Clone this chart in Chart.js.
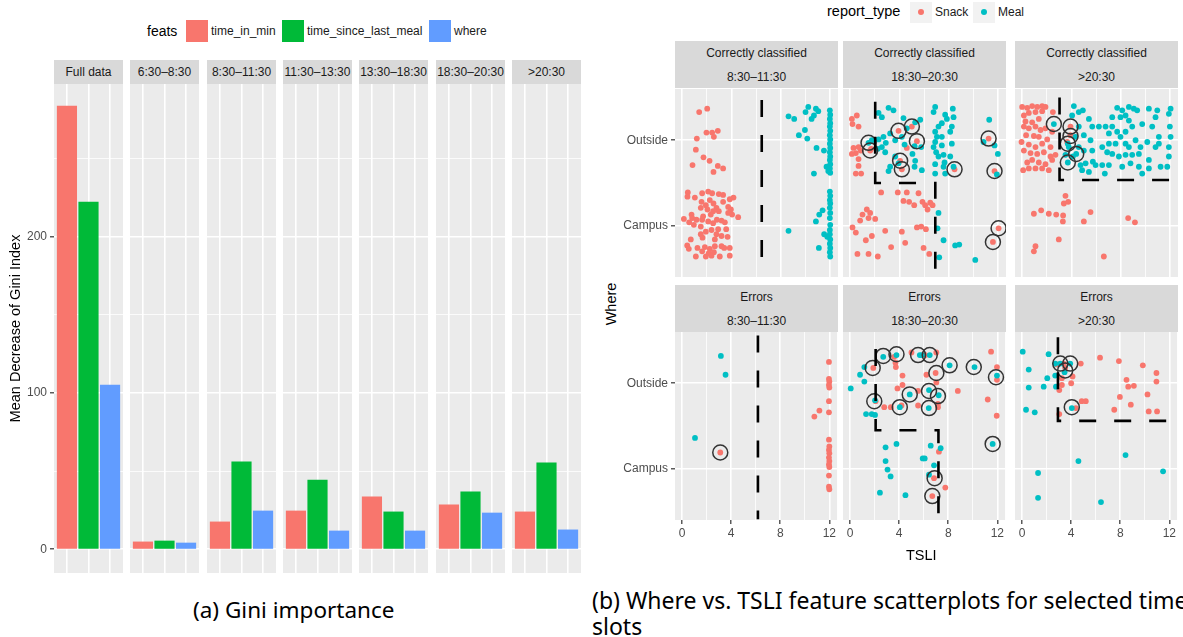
<!DOCTYPE html>
<html>
<head>
<meta charset="utf-8">
<script src="https://cdn.jsdelivr.net/npm/chart.js@4.4.1/dist/chart.umd.min.js"></script>
<style>
body { margin:0; width:1183px; height:637px; position:relative; overflow:hidden; background:#fff; font-family:"Liberation Sans", Arial, sans-serif; }
canvas { position:absolute; }
.strip { position:absolute; background:#D9D9D9; color:#1A1A1A; font-size:12px; text-align:center; }
.lab { position:absolute; white-space:nowrap; }
.cap { position:absolute; white-space:nowrap; font-family:"Noto Sans", sans-serif; font-size:22.5px; line-height:30px; color:#000; }
</style>
</head>
<body>
<div id="root"></div>
<script>
// ---- (a) Gini importance ----
const slots = ['Full data', '6:30–8:30', '8:30–11:30', '11:30–13:30', '13:30–18:30', '18:30–20:30', '>20:30'];
const feats = ['time_in_min', 'time_since_last_meal', 'where'];
const timeInMin = [283.6, 4.7, 17.5, 24.5, 33.5, 28.4, 23.9];
const timeSinceLastMeal = [222.2, 5.3, 55.9, 44.3, 23.9, 36.7, 55.3];
const whereGini = [105.1, 4.0, 24.5, 11.7, 11.7, 23.2, 12.4];
const giniTicks = [0, 100, 200];
const featColors = ['#F8766D', '#00BA38', '#619CFF'];

// ---- (b) Where vs TSLI (Where: Campus = 1, Outside = 2, jittered) ----
const reportTypes = ['Snack', 'Meal'];
const whereLevels = ['Campus', 'Outside'];
const tsliTicks = [0, 4, 8, 12];
const typeColors = ['#F8766D', '#00BFC4'];
const topRowTitle = 'Correctly classified';
const bottomRowTitle = 'Errors';
const scatterSlots = ['8:30–11:30', '18:30–20:30', '>20:30'];

const c1Snack = [[1.38,2.33],[2.03,2.37],[1.19,2.02],[1.97,2.09],[2.43,2.09],[2.57,2.04],[2.89,2.11],[1.11,1.89],[1.73,1.80],[2.22,1.76],[0.84,1.71],[2.54,1.63],[2.89,1.70],[3.32,1.67],
  [0.46,1.39],[1.03,1.33],[1.62,1.38],[2.11,1.40],[2.43,1.38],[2.97,1.37],[3.32,1.36],[4.16,1.33],[3.86,1.31],
  [0.43,1.34],[1.57,1.28],[2.24,1.30],[1.92,1.24],[2.54,1.26],[3.32,1.28],[3.73,1.22],[2.78,1.21],[1.51,1.21],
  [2.05,1.19],[2.51,1.17],[2.97,1.17],[3.95,1.19],[3.73,1.15],[4.54,1.10],[0.76,1.13],[1.70,1.11],[2.32,1.13],[4.05,1.13],
  [0.14,1.08],[0.81,1.09],[0.57,1.04],[1.16,1.07],[1.62,1.07],[2.11,1.05],[2.51,1.03],[2.81,1.07],[3.19,1.06],[3.46,1.04],[1.51,0.99],[0.95,1.01],
  [2.38,0.95],[2.92,0.96],[3.57,0.96],[1.92,0.93],[1.51,0.90],[0.70,0.84],[2.78,0.90],[3.19,0.88],[3.68,0.87],[1.65,0.86],[2.65,0.84],
  [0.41,0.77],[0.54,0.73],[1.24,0.74],[1.84,0.75],[2.24,0.73],[2.65,0.76],[3.19,0.76],[3.86,0.74],[1.62,0.70],[2.16,0.68],[2.57,0.69],[3.05,0.64],[3.86,0.65],[1.11,0.64],[1.92,0.64],[2.38,0.65],[3.41,0.74]];
const c1Meal = [[8.62,2.28],[9.08,2.25],[10.0,2.33],[10.22,2.39],[10.49,2.25],[10.68,2.29],[10.84,2.37],[11.03,2.34],[9.95,2.12],[9.46,2.06],[10.14,2.02],[10.89,1.91],[11.49,1.88],[10.68,1.61],[11.70,1.69],[11.84,1.64],
  [11.97,2.35],[12.0,2.30],[11.97,2.25],[12.0,2.20],[11.97,2.16],[12.0,2.11],[11.97,2.06],[12.0,2.01],[11.97,1.96],[12.0,1.91],[11.97,1.86],[12.0,1.81],[11.97,1.77],[12.0,1.72],[11.97,1.67],[12.0,1.62],
  [11.97,1.40],[12.0,1.35],[11.97,1.30],[12.0,1.26],[11.97,1.21],[12.0,1.15],[11.97,1.09],[12.0,1.01],[11.97,0.95],[12.0,0.84],[11.97,0.79],[12.0,0.74],[11.97,0.69],[12.0,0.64],[11.97,0.90],
  [8.62,0.94],[10.84,1.05],[11.11,1.13],[11.38,1.18],[11.08,0.74],[11.51,0.90],[11.76,0.87]];
const c1Circled = [];
const c1Split = [[6.45,2.47],[6.45,0.43]];

const c2Snack = [[0.14,2.25],[0.54,2.29],[0.19,2.19],[0.68,2.16],[0.27,1.91],[0.68,1.92],[0.46,1.85],[0.14,1.84],[0.86,1.88],[0.68,1.78],[0.68,1.70],[0.46,1.61],[0.89,1.61],[1.70,1.90],
  [3.92,2.11],[5.0,2.16],[5.41,1.99],[4.05,1.76],[4.19,1.66],[8.46,1.66],[11.22,2.02],[11.70,1.64],[1.62,1.88],[4.59,1.91],
  [2.51,1.39],[3.86,1.39],[4.59,1.39],[5.54,1.38],[4.32,1.29],[4.78,1.28],[5.19,1.24],[5.86,1.28],[6.08,1.24],[6.49,1.27],[6.68,1.24],[6.27,1.19],
  [1.35,1.19],[1.62,1.15],[1.0,1.13],[1.49,1.09],[2.03,1.08],[0.81,1.06],[0.19,0.98],[0.46,0.92],[1.76,0.88],[1.27,0.83],[2.84,0.94],[4.19,0.93],
  [5.41,0.98],[5.76,0.99],[6.14,0.96],[4.46,0.80],[3.32,0.75],[5.95,0.74],[0.59,0.67],[1.49,0.67],[2.24,0.64],[6.41,0.67],[12.03,0.97],[11.57,0.81]];
const c2Meal = [[3.11,2.38],[3.51,2.35],[2.30,2.32],[2.57,2.27],[4.32,2.26],[5.68,2.24],[6.89,2.39],[6.76,2.33],[7.70,2.30],[8.32,2.37],[7.84,2.25],[8.38,2.27],
  [7.43,2.20],[7.16,2.16],[8.24,2.16],[6.89,2.10],[7.03,2.04],[7.43,2.04],[8.11,2.10],[6.89,1.98],[6.76,1.92],[7.43,1.94],[8.24,1.96],[6.97,1.86],
  [7.16,1.81],[7.57,1.83],[5.27,2.21],[4.59,2.14],[3.24,2.08],[2.70,2.04],[2.89,1.97],[2.57,1.92],[2.30,2.01],[3.65,2.00],[4.19,2.04],[4.41,1.95],
  [5.22,1.93],[5.76,1.92],[5.05,1.84],[2.84,1.86],[3.65,1.81],[3.92,1.73],[5.27,1.76],[3.24,1.69],[3.11,1.64],[5.22,1.69],[5.81,1.65],[6.89,1.72],
  [7.57,1.69],[8.11,1.81],[7.65,1.74],[6.89,1.61],[7.70,1.61],[11.27,2.24],[10.81,1.98],[11.70,1.94],[11.97,1.84],[11.89,1.60],[8.38,1.69],[2.24,1.90],
  [1.76,2.00],[1.49,1.97],
  [7.16,1.15],[7.08,0.97],[7.57,0.83],[8.51,0.77],[8.84,0.78],[7.22,0.63],[10.14,0.60]];
const c2Circled = [[1.49,1.97],[1.62,1.88],[3.92,2.11],[5.0,2.16],[5.41,1.99],[4.05,1.76],[4.19,1.66],[8.46,1.66],[11.22,2.02],[11.70,1.64],[12.03,0.97],[11.57,0.81]];
const c2Split = [[2.03,2.45],[2.03,1.50],[6.90,1.50],[6.90,0.49]];

const c3Snack = [[0,2.39],[0.41,2.38],[0.81,2.40],[1.22,2.39],[1.62,2.40],[1.89,2.39],[0.14,2.29],[0.54,2.32],[1.08,2.33],[1.62,2.34],[2.49,2.33],
  [0.27,2.22],[0.81,2.21],[1.35,2.25],[0.14,2.16],[0.54,2.14],[1.08,2.16],[1.49,2.12],[1.89,2.14],[2.43,2.10],[0.32,2.06],[0.95,2.05],[1.35,2.04],
  [2.03,2.01],[-0.05,1.98],[0.54,1.95],[1.08,1.92],[1.62,1.96],[2.30,1.92],[0.14,1.88],[0.68,1.85],[1.22,1.84],[1.76,1.86],[2.30,1.81],[0.81,1.77],
  [1.35,1.74],[1.89,1.72],[2.43,1.77],[2.70,1.83],[0.08,1.65],[0.54,1.67],[1.08,1.67],[1.62,1.67],[2.16,1.65],[0.41,1.74],
  [3.92,2.16],[3.92,2.06],[3.65,1.98],
  [3.51,1.35],[3.38,1.26],[3.73,1.28],[0.95,1.14],[1.54,1.18],[2.16,1.14],[2.76,1.13],[3.32,1.12],[3.30,1.05],[5.54,1.16],[5.0,1.05],[8.59,1.09],
  [9.14,1.04],[2.97,0.84],[1.08,0.76],[0.95,0.70],[6.62,0.64]];
const c3Meal = [[2.57,2.19],[3.70,1.74],[4.38,1.84],[3.70,1.96],
  [4.19,2.40],[4.59,2.33],[4.05,2.29],[4.92,2.35],[5.41,2.25],[5.68,2.16],[4.59,2.16],[5.0,2.06],[4.32,2.04],[5.54,2.00],[3.78,1.92],[4.59,1.92],
  [5.0,1.88],[5.68,1.88],[3.51,1.83],[4.11,1.81],[4.73,1.71],[5.14,1.73],[5.73,1.75],[6.49,1.71],[5.41,1.63],[4.86,1.65],[6.70,1.61],[6.49,1.92],
  [7.03,1.96],[6.76,2.16],[7.30,2.27],[7.70,2.38],[8.11,2.35],[8.65,2.39],[9.05,2.37],[8.38,2.29],[7.97,2.27],[8.65,2.23],[9.32,2.35],[10.27,2.37],
  [10.95,2.35],[10.81,2.27],[10.54,2.16],[9.73,2.19],[8.92,2.16],[8.38,2.10],[7.97,2.04],[7.70,2.10],[7.30,2.16],[7.03,2.08],[7.57,1.96],[8.38,1.96],
  [8.65,1.92],[9.19,2.00],[9.59,1.92],[10.14,1.98],[9.46,1.84],[8.92,1.83],[8.38,1.83],[7.84,1.81],[7.30,1.84],[7.03,1.71],[8.11,1.69],[8.78,1.73],
  [9.46,1.69],[9.73,1.61],[10.27,1.67],[11.22,1.69],[11.76,1.69],[11.89,1.81],[11.89,1.92],[12.03,2.04],[11.97,2.16],[11.89,2.31],[12.03,2.37],
  [11.08,2.04],[10.81,1.92],[10.27,1.77],[11.08,1.96],[6.22,2.16],[6.89,1.86],[5.95,1.71]];
const c3Circled = [[2.57,2.19],[3.92,2.16],[3.92,2.05],[3.70,1.96],[4.38,1.84],[3.70,1.74]];
const c3Split = [[3.03,2.50],[3.03,1.535],[13.0,1.535]];

const e1Snack = [[3.11,1.19],
  [11.97,2.25],[11.97,2.05],[12.0,2.02],[11.97,1.98],[12.0,1.95],[11.97,1.79],[11.97,1.66],[11.97,1.34],[12.0,1.26],[11.97,1.22],[12.0,1.18],
  [11.97,1.13],[12.0,1.09],[11.97,1.05],[12.0,1.02],[11.97,0.92],[11.97,0.79],[12.0,0.76],[11.19,1.68],[10.78,1.61]];
const e1Meal = [[3.16,2.32],[3.54,2.10],[1.05,1.36]];
const e1Circled = [[3.11,1.19]];
const e1Split = [[6.18,2.56],[6.18,0.41]];

const e2Snack = [[1.89,2.18],[3.59,2.31],[3.70,2.24],[3.73,2.19],[5.0,2.36],[6.14,2.33],[7.03,2.36],[6.97,2.12],[7.03,2.01],[6.22,2.10],[4.27,2.09],
  [4.27,1.98],[3.86,1.94],[5.54,1.91],[7.16,1.76],[8.78,1.91],[2.78,1.72],[3.32,1.72],[4.19,1.74],[5.54,1.74],[7.16,1.72],[11.22,1.81],[11.49,2.37],
  [11.97,2.19],[11.97,2.04],[11.95,1.62],[2.08,1.79],[6.84,0.89],[7.76,0.78],[7.24,1.20],[6.70,0.68]];
const e2Meal = [[0.05,1.94],[0.81,2.10],[1.16,2.02],[1.16,2.19],[2.70,2.31],[3.78,2.33],[5.68,2.33],[5.86,2.33],[6.49,2.33],[8.11,2.21],[10.14,2.19],
  [11.97,2.09],[4.86,1.87],[6.43,1.92],[7.22,1.86],[2.03,1.80],[4.05,1.72],[6.41,1.71],[1.30,1.64],[1.76,1.64],[2.03,1.63],
  [2.89,1.25],[3.78,1.29],[6.57,1.27],[7.38,1.24],[5.92,1.12],[6.08,1.12],[2.89,1.09],[6.84,1.04],[3.05,0.99],[3.30,0.91],[6.43,0.93],[2.43,0.72],
  [4.51,0.69],[11.62,1.29]];
const e2Circled = [[2.70,2.32],[3.78,2.34],[5.54,2.33],[6.49,2.33],[8.11,2.21],[10.08,2.19],[11.89,2.07],[1.84,2.18],[7.03,2.12],[1.97,1.79],
  [4.86,1.87],[6.43,1.91],[7.16,1.85],[4.05,1.72],[6.43,1.71],[11.62,1.29],[6.89,0.89],[6.70,0.68]];
const e2Split = [[2.08,2.40],[2.08,1.45],[7.20,1.45],[7.20,0.45]];

const e3Snack = [[2.84,2.22],[3.38,2.23],[3.51,2.18],[4.78,2.23],[6.35,2.30],[7.89,2.26],[9.84,2.21],[10.95,2.12],[10.95,2.02],[8.51,2.04],[8.65,1.96],
  [9.11,1.97],[7.97,1.84],[10.22,1.87],[8.86,1.75],[7.51,1.69],[10.32,1.67],[11.0,1.67],[4.86,1.79],[5.19,1.79],[3.24,2.06],[4.11,2.08],[4.0,2.00],
  [3.24,1.98],[3.03,1.92],[4.38,1.71],[3.03,1.64]];
const e3Meal = [[0.05,2.37],[0.54,2.16],[0.54,1.95],[2.16,2.34],[2.05,2.06],[1.76,1.96],[2.70,2.23],[2.70,2.09],[2.76,1.96],[3.11,2.23],[3.92,2.23],
  [3.46,2.13],[0.32,1.69],[1.03,1.66],[4.05,1.71],[4.59,1.09],[8.43,1.16],[1.30,0.95],[1.30,0.66],[6.43,0.61],[11.49,0.97]];
const e3Circled = [[3.11,2.23],[3.92,2.23],[3.51,2.15],[4.05,1.72]];
const e3Split = [[2.92,2.54],[2.92,1.56],[13.0,1.56]];

Chart.defaults.font.family = '"Liberation Sans", Arial, sans-serif';
Chart.defaults.animation = false;

// vertical room around every plot so tick labels never shrink the panel
const PAD = 12;

const root = document.getElementById('root');
function el(tag, cls, css, text) {
  const e = document.createElement(tag);
  if (cls) e.className = cls;
  Object.assign(e.style, css);
  if (text !== undefined) e.textContent = text;
  root.appendChild(e);
  return e;
}
function canvasAt(left, top, w, h) {
  const c = el('canvas', '', { left: left + 'px', top: (top - PAD) + 'px' });
  c.width = w; c.height = h + 2 * PAD;
  return c.getContext('2d');
}

// grey panel background like ggplot
const panelBg = {
  id: 'panelBg',
  beforeDraw(chart) {
    const a = chart.chartArea, ctx = chart.ctx;
    ctx.save();
    ctx.fillStyle = '#EBEBEB';
    ctx.fillRect(a.left, a.top, a.right - a.left, a.bottom - a.top);
    ctx.restore();
  }
};

const layoutOpts = { autoPadding: false, padding: { top: PAD, bottom: PAD, left: 0, right: 0 } };

// ---------- left figure ----------
el('div', 'lab', { left: '147px', top: '23px', fontSize: '14px', color: '#000' }, 'feats');
const legX = [186, 282, 429];
feats.forEach((f, k) => {
  el('div', '', { position: 'absolute', left: legX[k] + 'px', top: '20px', width: '22px', height: '22px', background: featColors[k] });
  el('div', 'lab', { left: (legX[k] + 25) + 'px', top: '24px', fontSize: '12px', color: '#1A1A1A' }, f);
});

const barLeft = [54, 130, 207, 283, 359, 436, 512];
const series = [timeInMin, timeSinceLastMeal, whereGini];
slots.forEach((s, i) => {
  el('div', 'strip', { left: barLeft[i] + 'px', top: '60px', width: '69px', height: '24px', lineHeight: '24px' }, s);
  const first = i === 0;
  const yAxisW = first ? 54 : 0;
  const ctx = canvasAt(barLeft[i] - yAxisW, 84, 69 + yAxisW, 489);
  new Chart(ctx, {
    type: 'bar',
    data: {
      datasets: [{
        data: [1, 2, 3].map((x, k) => ({ x: x, y: series[k][i] })),
        backgroundColor: featColors,
        barThickness: 19.5,
        borderWidth: 0
      }]
    },
    options: {
      responsive: false,
      layout: layoutOpts,
      plugins: { legend: { display: false }, tooltip: { enabled: false } },
      scales: {
        x: {
          type: 'linear', min: 0.4, max: 3.6, offset: false,
          ticks: { display: false, stepSize: 1, includeBounds: false },
          grid: { color: '#fff', lineWidth: 1.6, drawTicks: false, offset: false },
          border: { display: false },
          afterFit: sc => { sc.height = 0; }
        },
        y: {
          min: -15.2, max: 297.7,
          ticks: {
            display: first, stepSize: 50, includeBounds: false, padding: 3,
            color: '#4D4D4D', font: { size: 12 },
            callback: v => giniTicks.includes(v) ? v : ''
          },
          grid: {
            color: '#fff',
            lineWidth: c => (c.tick && c.tick.value % 100 === 0) ? 1.6 : 0.8,
            drawTicks: first, tickLength: 4, tickWidth: 1.2,
            tickColor: c => (c.tick && c.tick.value % 100 === 0) ? '#333' : 'rgba(0,0,0,0)'
          },
          border: { display: false },
          title: { display: first, text: 'Mean Decrease of Gini Index', color: '#000', font: { size: 14.5 }, padding: { top: 7, bottom: 0 } },
          afterFit: sc => { sc.width = yAxisW; }
        }
      }
    },
    plugins: [panelBg]
  });
});

el('div', 'cap', { left: '193px', top: '595px' }, '(a) Gini importance');

// ---------- right figure ----------
el('div', 'lab', { left: '827px', top: '3px', fontSize: '14.5px', color: '#000' }, 'report_type');
const keyX = [910, 973];
reportTypes.forEach((t, k) => {
  el('div', '', { position: 'absolute', left: keyX[k] + 'px', top: '2px', width: '22px', height: '21px', background: '#F2F2F2' });
  el('div', '', { position: 'absolute', left: (keyX[k] + 8) + 'px', top: '9px', width: '6px', height: '6px', borderRadius: '3px', background: typeColors[k] });
  el('div', 'lab', { left: (keyX[k] + 25) + 'px', top: '5px', fontSize: '12px', color: '#1A1A1A' }, t);
});

const colLeft = [675, 843, 1015];
const rowTop = [89, 332];
const stripTop = [41, 285];
const rowTitles = [topRowTitle, bottomRowTitle];
const panels = [
  [c1Snack, c1Meal, c1Circled, c1Split], [c2Snack, c2Meal, c2Circled, c2Split], [c3Snack, c3Meal, c3Circled, c3Split],
  [e1Snack, e1Meal, e1Circled, e1Split], [e2Snack, e2Meal, e2Circled, e2Split], [e3Snack, e3Meal, e3Circled, e3Split]
];
const pts = arr => arr.map(p => ({ x: p[0], y: p[1] }));

panels.forEach((p, n) => {
  const row = Math.floor(n / 3), col = n % 3;
  const st = el('div', 'strip', { left: colLeft[col] + 'px', top: stripTop[row] + 'px', width: '163px', height: '47px', lineHeight: '24px' });
  st.innerHTML = '<div>' + rowTitles[row] + '</div><div>' + scatterSlots[col] + '</div>';
  const yW = col === 0 ? 55 : 0;
  const xH = row === 1 ? 20 : 0;
  const ctx = canvasAt(colLeft[col] - yW, rowTop[row], 163 + yW, 188 + xH);
  new Chart(ctx, {
    type: 'scatter',
    data: {
      datasets: [
        { data: pts(p[0]), backgroundColor: typeColors[0], pointRadius: 2.9, borderWidth: 0, order: 4 },
        { data: pts(p[1]), backgroundColor: typeColors[1], pointRadius: 2.9, borderWidth: 0, order: 3 },
        { data: pts(p[2]), backgroundColor: 'rgba(0,0,0,0)', borderColor: '#333', borderWidth: 1.5, pointRadius: 7.5, order: 2 },
        { data: pts(p[3]), showLine: true, pointRadius: 0, borderColor: '#000', borderWidth: 2.6, borderDash: [17, 18], fill: false, clip: 0, order: 1 }
      ]
    },
    options: {
      responsive: false,
      layout: layoutOpts,
      plugins: { legend: { display: false }, tooltip: { enabled: false } },
      scales: {
        x: {
          type: 'linear', min: -0.58, max: 12.63,
          ticks: {
            display: row === 1, stepSize: 2, includeBounds: false, padding: 2,
            color: '#4D4D4D', font: { size: 12 },
            callback: v => tsliTicks.includes(v) ? v : ''
          },
          grid: {
            color: '#fff',
            lineWidth: c => (c.tick && c.tick.value % 4 === 0) ? 1.6 : 0.8,
            drawTicks: row === 1, tickLength: 4, tickWidth: 1.2,
            tickColor: c => (c.tick && c.tick.value % 4 === 0) ? '#333' : 'rgba(0,0,0,0)'
          },
          border: { display: false },
          afterFit: sc => { sc.height = xH; }
        },
        y: {
          type: 'linear', min: 0.4, max: 2.6,
          ticks: {
            display: col === 0, stepSize: 1, includeBounds: false, padding: 3,
            color: '#4D4D4D', font: { size: 12 },
            callback: v => whereLevels[v - 1] || ''
          },
          grid: { color: '#fff', lineWidth: 1.6, drawTicks: col === 0, tickLength: 4, tickWidth: 1.2, tickColor: '#333' },
          border: { display: false },
          afterFit: sc => { sc.width = yW; }
        }
      }
    },
    plugins: [panelBg]
  });
});

el('div', 'lab', { left: '590px', top: '296px', fontSize: '14.5px', color: '#000', transform: 'rotate(-90deg)', transformOrigin: 'center' }, 'Where');
el('div', 'lab', { left: '906px', top: '547px', fontSize: '14.5px', color: '#000' }, 'TSLI');

el('div', 'cap', { left: '592px', top: '585px', fontSize: '23px' }, '(b) Where vs. TSLI feature scatterplots for selected time');
el('div', 'cap', { left: '592px', top: '611px', fontSize: '23px' }, 'slots');
</script>
</body>
</html>
